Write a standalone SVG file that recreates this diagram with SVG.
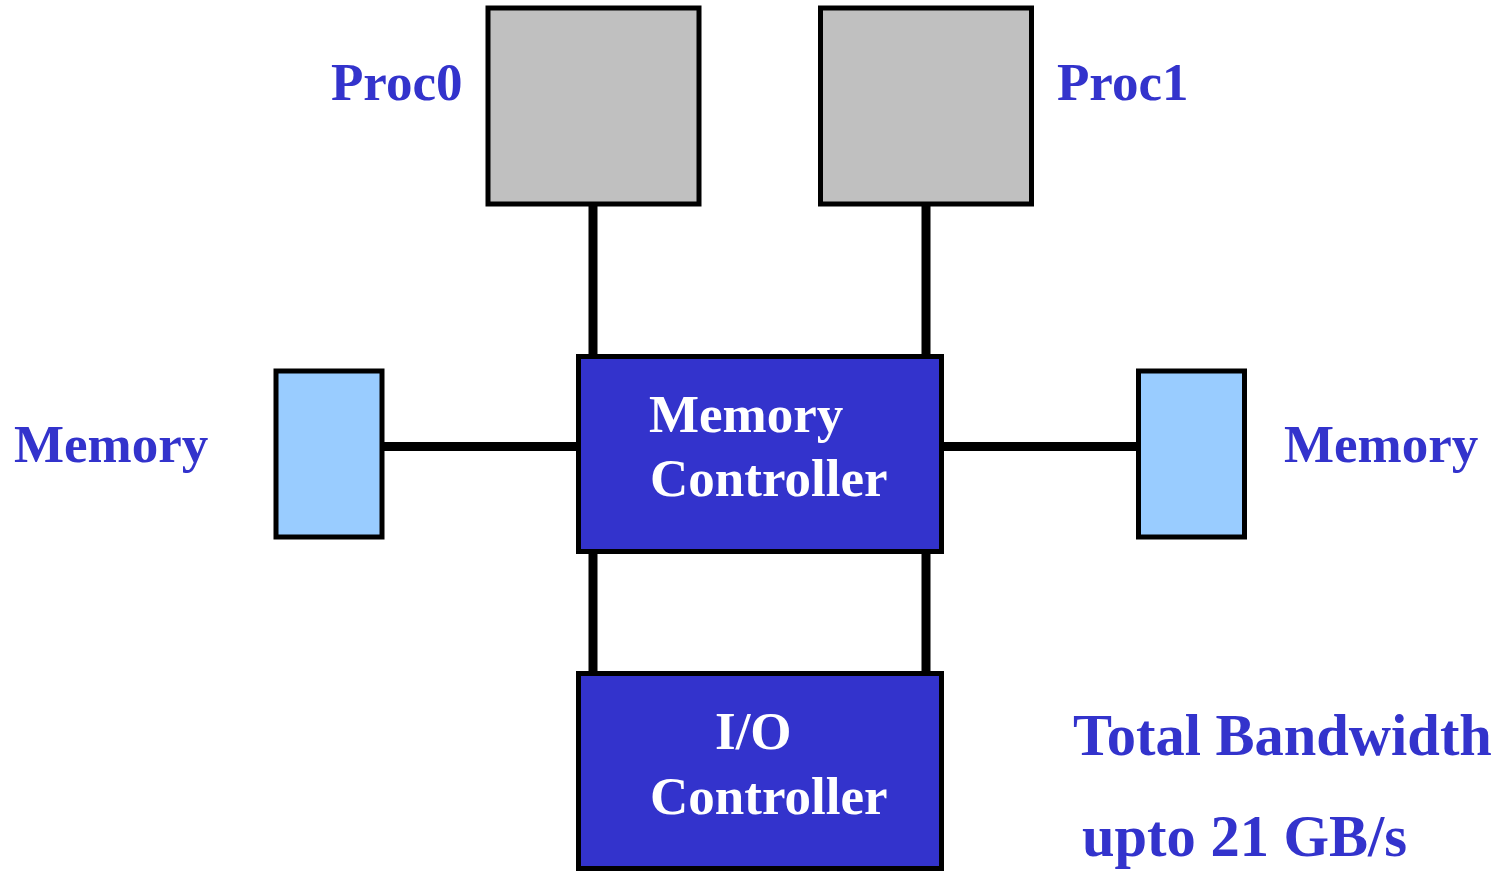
<svg xmlns="http://www.w3.org/2000/svg" width="1501" height="872" viewBox="0 0 1501 872">
  <style>
    .proc { fill: #C0C0C0; stroke: #000; stroke-width: 5; }
    .ctrl { fill: #3333CC; stroke: #000; stroke-width: 5; }
    .mem { fill: #99CCFF; stroke: #000; stroke-width: 5; }
    .wire { stroke: #000; stroke-width: 9; fill: none; }
    .lbl { font-family: "Liberation Serif", "Times New Roman", serif; font-weight: bold; font-size: 53px; fill: #3333CC; }
    .note { font-size: 58.5px; }
    .in { font-family: "Liberation Serif", "Times New Roman", serif; font-weight: bold; font-size: 53px; fill: #FFFFFF; }
  </style>
  <rect width="1501" height="872" fill="#FFFFFF"/>

  <!-- connectors -->
  <g id="connectors">
    <line class="wire" x1="593" y1="204" x2="593" y2="356"/>
    <line class="wire" x1="926" y1="204" x2="926" y2="356"/>
    <line class="wire" x1="382" y1="446.5" x2="578" y2="446.5"/>
    <line class="wire" x1="941" y1="446.5" x2="1138" y2="446.5"/>
    <line class="wire" x1="593" y1="552" x2="593" y2="673"/>
    <line class="wire" x1="926" y1="552" x2="926" y2="673"/>
  </g>

  <g id="proc0">
    <rect class="proc" x="488" y="8" width="211" height="196"/>
    <text class="lbl" x="331" y="100">Proc0</text>
  </g>

  <g id="proc1">
    <rect class="proc" x="820.5" y="8" width="211" height="196"/>
    <text class="lbl" x="1057" y="100">Proc1</text>
  </g>

  <g id="memory-left">
    <rect class="mem" x="276" y="371" width="106" height="166"/>
    <text class="lbl" x="14" y="462">Memory</text>
  </g>

  <g id="memory-right">
    <rect class="mem" x="1138.5" y="371" width="106" height="166"/>
    <text class="lbl" x="1284" y="462">Memory</text>
  </g>

  <g id="memory-controller">
    <rect class="ctrl" x="578.5" y="356.5" width="363" height="195"/>
    <text class="in" x="649" y="432">Memory</text>
    <text class="in" x="650" y="496">Controller</text>
  </g>

  <g id="io-controller">
    <rect class="ctrl" x="578.5" y="673.5" width="363" height="195"/>
    <text class="in" x="715" y="749">I/O</text>
    <text class="in" x="650" y="814">Controller</text>
  </g>

  <g id="bandwidth-note">
    <text class="lbl note" x="1073" y="755">Total Bandwidth</text>
    <text class="lbl note" x="1082" y="856">upto 21 GB/s</text>
  </g>
</svg>
